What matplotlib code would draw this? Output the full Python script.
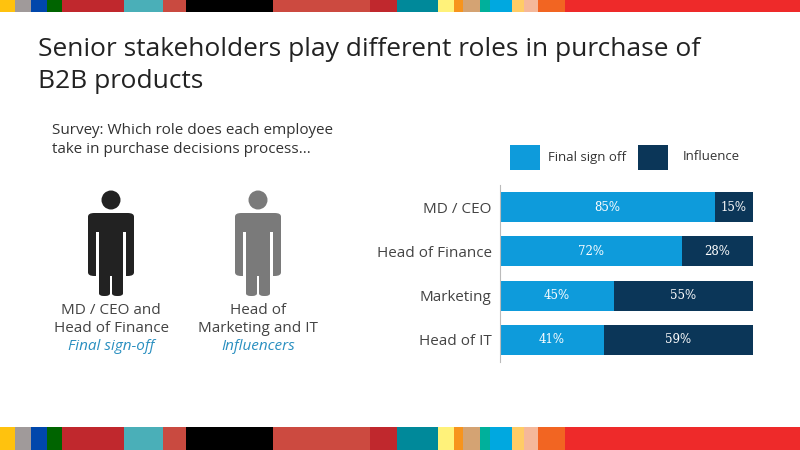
import matplotlib
matplotlib.use("Agg")
import matplotlib.pyplot as plt
from matplotlib.patches import Rectangle, Ellipse, FancyBboxPatch

roles = ["MD / CEO", "Head of Finance", "Marketing", "Head of IT"]
final_sign_off = [85, 72, 45, 41]
influence = [15, 28, 55, 59]

LIGHT = "#0E9BDB"
DARK = "#0B3658"
FONT = "Open Sans"

stripe_edges = [0, 15, 31, 47, 62, 124, 163, 186, 273, 370, 397, 438, 454, 463, 480, 490, 512, 524, 538, 565, 800]
stripe_colors = ["#FFC20E", "#A09A9A", "#0047AB", "#006400", "#C0282D", "#4AAFB8", "#C94A40", "#000000",
                 "#CC4A40", "#C0282D", "#00899A", "#FFF27A", "#F7941D", "#D4A373", "#00B09B", "#00A8E0",
                 "#FFCC66", "#F5B89A", "#F26522", "#EE2A2A"]

fig = plt.figure(figsize=(8, 4.5), dpi=100)
W, H = 800.0, 450.0


def px(x, y):
    return x / W, 1 - y / H


for (a, b), c in zip(zip(stripe_edges[:-1], stripe_edges[1:]), stripe_colors):
    for y0, y1 in [(0, 12), (427, 450)]:
        fig.patches.append(Rectangle((a / W, 1 - y1 / H), (b - a) / W, (y1 - y0) / H,
                                     transform=fig.transFigure, color=c, lw=0))

fig.text(*px(38, 50), "Senior stakeholders play different roles in purchase of", fontsize=19,
         family=FONT, va="center", color="#222222")
fig.text(*px(38, 82), "B2B products", fontsize=19, family=FONT, va="center", color="#222222")
fig.text(*px(52, 131), "Survey: Which role does each employee", fontsize=11, family=FONT, va="center", color="#333333")
fig.text(*px(52, 150), "take in purchase decisions process\u2026", fontsize=11, family=FONT, va="center", color="#333333")


def person(cx, color):
    add = fig.patches.append
    add(Ellipse(px(cx, 200), 19 / W, 19 / H, transform=fig.transFigure, color=color, lw=0))
    # torso with arms
    x0, y0 = px(cx - 23, 276)
    add(FancyBboxPatch((x0, y0), 46 / W, 63 / H, boxstyle="round,pad=0,rounding_size=0.008",
                       transform=fig.transFigure, color=color, lw=0))
    # gaps between arms and torso
    for dx in (-15, 12):
        gx, gy = px(cx + dx, 277)
        add(Rectangle((gx, gy), 3 / W, 45 / H, transform=fig.transFigure, color="white", lw=0))
    # legs
    for dx in (-12, 1):
        lx, ly = px(cx + dx, 296)
        add(FancyBboxPatch((lx, ly), 11 / W, 60 / H, boxstyle="round,pad=0,rounding_size=0.006",
                           transform=fig.transFigure, color=color, lw=0))


person(111, "#222222")
person(258, "#7A7A7A")

for cx, l1, l2, l3 in [(111, "MD / CEO and", "Head of Finance", "Final sign-off"),
                       (258, "Head of", "Marketing and IT", "Influencers")]:
    fig.text(*px(cx, 311), l1, ha="center", va="center", fontsize=11, family=FONT, color="#444444")
    fig.text(*px(cx, 328), l2, ha="center", va="center", fontsize=11, family=FONT, color="#444444")
    fig.text(*px(cx, 347), l3, ha="center", va="center", fontsize=11, family=FONT, color="#2A8FC0",
             style="italic")

# legend
for x0, c, label in [(510, LIGHT, "Final sign off"), (638, DARK, "Influence")]:
    fig.patches.append(Rectangle(px(x0, 170), 30 / W, 25 / H, transform=fig.transFigure, color=c, lw=0))
    fig.text(*px(x0 + 38 if c == LIGHT else x0 + 45, 157), label, fontsize=9.5, family=FONT,
             va="center", color="#333333")

ax = fig.add_axes([500 / W, 1 - 362 / H, 253 / W, 177 / H])
ys = list(range(len(roles)))
ax.barh(ys, final_sign_off, height=0.68, color=LIGHT)
ax.barh(ys, influence, left=final_sign_off, height=0.68, color=DARK)
for y, a, b in zip(ys, final_sign_off, influence):
    ax.text(a / 2, y, f"{a}%", ha="center", va="center", color="white", fontsize=8.5, family="DejaVu Serif")
    ax.text(a + b / 2, y, f"{b}%", ha="center", va="center", color="white", fontsize=8.5, family="DejaVu Serif")
ax.set_xlim(0, 100)
ax.set_ylim(len(roles) - 0.5, -0.5)
ax.set_yticks(ys)
ax.set_yticklabels(roles, fontsize=11, family=FONT, color="#444444")
ax.tick_params(axis="y", length=0, pad=6)
ax.set_xticks([])
for s in ax.spines.values():
    s.set_visible(False)
ax.spines["left"].set_visible(True)
ax.spines["left"].set_color("#BBBBBB")

fig.savefig("out.png", dpi=100)
